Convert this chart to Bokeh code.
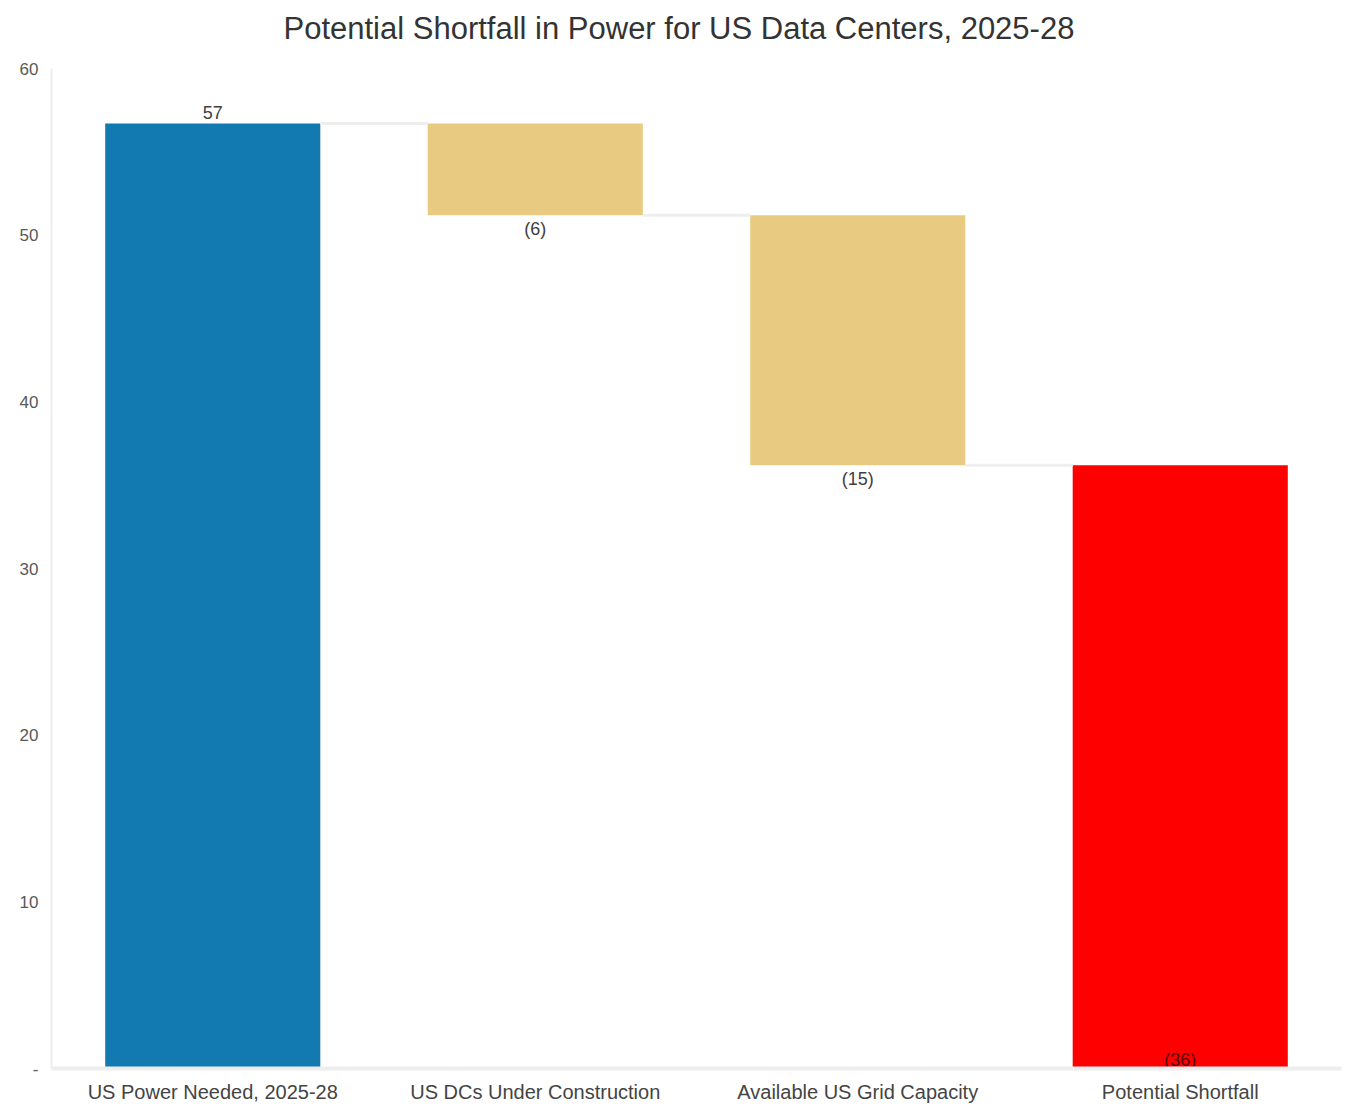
from bokeh.plotting import figure
from bokeh.models import FactorRange, ColumnDataSource, Range1d, FixedTicker
from bokeh.transform import dodge
from bokeh.core.properties import value
from bokeh.embed import file_html
from bokeh.resources import INLINE

# ---- data ----
title_text = "Potential Shortfall in Power for US Data Centers, 2025-28"
categories = ["US Power Needed, 2025-28", "US DCs Under Construction",
              "Available US Grid Capacity", "Potential Shortfall"]
steps = [56.7, -5.5, -15.0]          # first value is the starting total, then changes
bar_colors = ["#1279B1", "#E8CB80", "#E8CB80", "#FF0000"]
y_ticks = [0, 10, 20, 30, 40, 50, 60]
y_max = 60

# ---- waterfall geometry from the data ----
bottoms, tops, label_vals = [], [], []
running = 0.0
for i, s in enumerate(steps):
    start = running
    running = s if i == 0 else running + s
    if i == 0:
        start = 0.0
    bottoms.append(min(start, running))
    tops.append(max(start, running))
    label_vals.append(s)
total = running
bottoms.append(0.0)
tops.append(total)
label_vals.append(-total)


def fmt(v):
    r = int(round(abs(v) + 1e-9))
    return f"({r})" if v < 0 else f"{r}"


labels = [fmt(v) for v in label_vals]

src = ColumnDataSource(dict(cat=categories, bottom=bottoms, top=tops,
                            color=bar_colors, label=labels))

FONT = "Liberation Sans"

# frame: 50 px from top, 1018 px tall; value 60 sits 18 px below the frame top
TOP_BORDER = 50
PX_PER_UNIT = 1000 / y_max
y_end = y_max + 18 / PX_PER_UNIT

p = figure(width=1355, height=1106, x_range=FactorRange(*categories),
           y_range=Range1d(0, y_end), output_backend="svg", toolbar_location=None,
           min_border_left=51, min_border_right=14, min_border_top=TOP_BORDER,
           min_border_bottom=38)
p.outline_line_color = None
p.xgrid.grid_line_color = None
p.ygrid.grid_line_color = None
p.background_fill_color = "white"
p.border_fill_color = "white"

p.title.text = title_text
p.title.align = "left"
p.title.offset = 232
p.title.standoff = 10
p.title.text_font = FONT
p.title.text_font_size = "31px"
p.title.text_font_style = "normal"
p.title.text_color = "#333333"

# bars
p.vbar(x="cat", bottom="bottom", top="top", width=0.667, color="color",
       line_color=None, source=src)

# connectors
conn = ColumnDataSource(dict(c0=categories[:-1], c1=categories[1:],
                             y=[tops[0], bottoms[1], bottoms[2]]))
p.segment(x0=dodge("c0", 0.3335, range=p.x_range), y0="y",
          x1=dodge("c1", -0.3335, range=p.x_range), y1="y",
          line_color="#EEEEEE", line_width=3, source=conn)

# data labels
pos_src = ColumnDataSource(dict(cat=[categories[0]], y=[tops[0]], t=[labels[0]]))
neg_src = ColumnDataSource(dict(cat=categories[1:3], y=bottoms[1:3], t=labels[1:3]))
tot_src = ColumnDataSource(dict(cat=[categories[3]], y=[0.0], t=[labels[3]]))
common = dict(text="t", text_font=value(FONT), text_font_size="18px",
              text_color="#404040", text_align="center")
p.text(x="cat", y="y", source=pos_src, text_baseline="bottom", y_offset=-5, **common)
p.text(x="cat", y="y", source=neg_src, text_baseline="top", y_offset=4, **common)
p.text(x="cat", y="y", source=tot_src, text_baseline="bottom", y_offset=1,
       text="t", text_font=value(FONT), text_font_size="18px",
       text_color="#5a0000", text_align="center")

# axes
p.yaxis.ticker = FixedTicker(ticks=y_ticks)
p.yaxis.bounds = (0, y_max)
p.yaxis.major_label_overrides = {0: "-"}
p.yaxis.axis_line_color = "#EEEEEE"
p.yaxis.axis_line_width = 2
p.yaxis.major_tick_line_color = None
p.yaxis.minor_tick_line_color = None
p.yaxis.major_tick_in = 0
p.yaxis.major_tick_out = 0
p.yaxis.major_label_standoff = 13
p.yaxis.major_label_text_font = FONT
p.yaxis.major_label_text_font_size = "17px"
p.yaxis.major_label_text_color = "#595959"

p.xaxis.axis_line_color = "#EEEEEE"
p.xaxis.axis_line_width = 4
p.xaxis.major_tick_line_color = None
p.xaxis.minor_tick_line_color = None
p.xaxis.major_tick_in = 0
p.xaxis.major_tick_out = 0
p.xaxis.major_label_standoff = 12
p.xaxis.major_label_text_font = FONT
p.xaxis.major_label_text_font_size = "20px"
p.xaxis.major_label_text_color = "#444444"

open("out.html", "w").write(file_html(p, INLINE))
